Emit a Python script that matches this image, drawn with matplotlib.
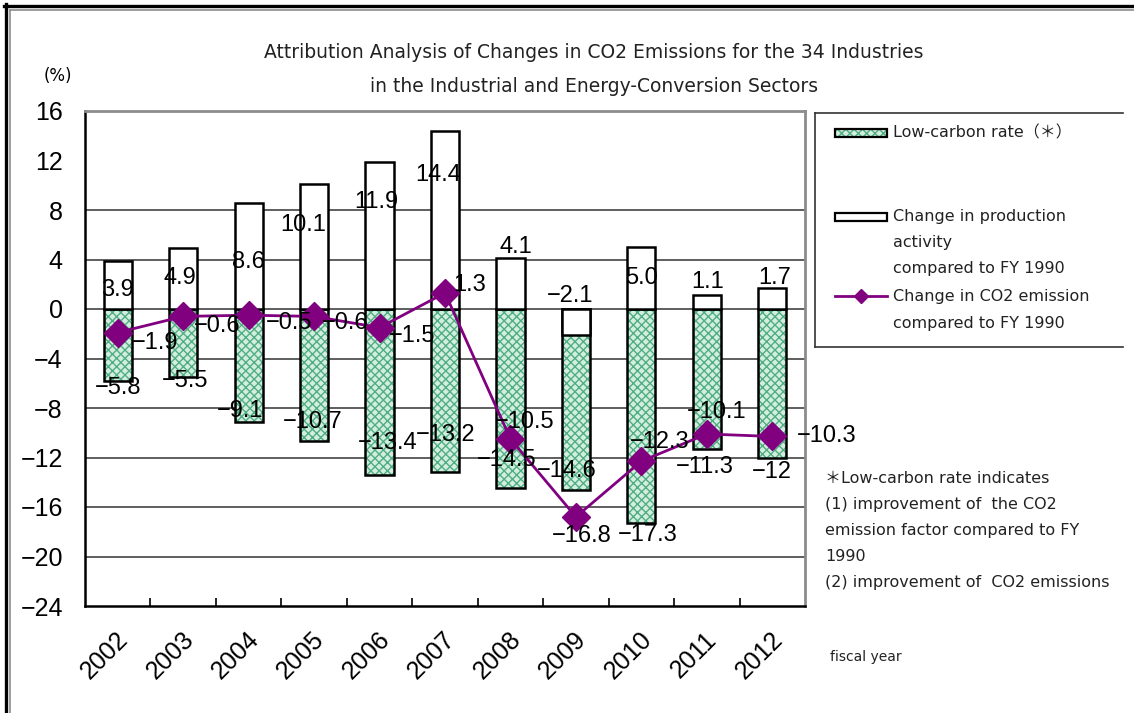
import numpy as np
import matplotlib
matplotlib.use("Agg")
import matplotlib.pyplot as plt
from matplotlib.lines import Line2D
from matplotlib.patches import Rectangle

# fiscal years and the three decomposition series (% vs FY1990)
years = ["2002", "2003", "2004", "2005", "2006", "2007",
         "2008", "2009", "2010", "2011", "2012"]
low_carbon = [-5.8, -5.5, -9.1, -10.7, -13.4, -13.2, -14.5, -14.6, -17.3, -11.3, -12.0]
production = [3.9, 4.9, 8.6, 10.1, 11.9, 14.4, 4.1, -2.1, 5.0, 1.1, 1.7]
co2_change = [-1.9, -0.6, -0.5, -0.6, -1.5, 1.3, -10.5, -16.8, -12.3, -10.1, -10.3]

# hand-placed label offsets (pixels) from each mark
low_off = [(0, -7), (2, -4), (-9, 11), (-1, 19), (8, 32), (1, 37),
           (-4, 28), (-9, 19), (6, -12), (-2, -18), (0, -15)]
prod_off = [(0, -29), (-3, -30), (0, -59), (-11, -41), (-3, -40), (-7, -44),
            (5, 11), (-6, 39), (0, -31), (1, 13), (2, 10)]
co2_off = [(37, -10), (34, -10), (40, -8), (31, -7), (33, -8), (25, 8),
           (14, 17), (6, -19), (18, 19), (10, 22), (54, 0)]

W, H = 1134, 713
TXT = ["DejaVu Sans", "Noto Sans CJK JP"]
NUM = ["Liberation Sans Narrow", "Liberation Sans"]
GREEN_FACE = "#d3eddf"
GREEN_HATCH = "#4fae82"


def fx(px):
    return px / W


def fy(py):
    return 1 - py / H


def fmt(v, spec):
    return format(v, spec).replace("-", "\u2212")


fig = plt.figure(figsize=(W / 100, H / 100), dpi=100)
fig.patch.set_facecolor("white")
ax = fig.add_axes([fx(85), fy(606), 720 / W, (606 - 111) / H])

x = np.arange(len(years))
bw = 0.43

plt.rcParams["hatch.linewidth"] = 1.0
ax.bar(x, low_carbon, bw, color=GREEN_FACE, edgecolor=GREEN_HATCH, hatch="xxxx",
       linewidth=0, zorder=2)
ax.bar(x, low_carbon, bw, fill=False, edgecolor="black", linewidth=1.8, zorder=3)
ax.bar(x, production, bw, color="white", edgecolor="black", linewidth=1.8, zorder=4)
ax.plot(x, co2_change, color="#800080", lw=2, marker="D", ms=14, zorder=5)

for v in [8, 4, 0, -4, -8, -12, -16, -20]:
    ax.axhline(v, color="#333333", lw=1.1, zorder=1)

for i in range(len(years)):
    ax.annotate(fmt(low_carbon[i], "g"), (x[i], low_carbon[i]), xytext=low_off[i],
                textcoords="offset pixels", ha="center", va="center",
                fontsize=17, family=NUM, zorder=6)
    ax.annotate(fmt(production[i], ".1f"), (x[i], production[i]), xytext=prod_off[i],
                textcoords="offset pixels", ha="center", va="center",
                fontsize=17, family=NUM, zorder=6)
    ax.annotate(fmt(co2_change[i], ".1f"), (x[i], co2_change[i]), xytext=co2_off[i],
                textcoords="offset pixels", ha="center", va="center",
                fontsize=17, family=NUM, zorder=6)

ax.set_xlim(-0.5, len(years) - 0.5)
ax.set_ylim(-24, 16)
ax.set_yticks(range(-24, 17, 4))
ax.tick_params(axis="y", length=0, pad=16, labelsize=18)
for t in ax.get_yticklabels():
    t.set_family("Liberation Sans")

ax.set_xticks([])
ax.set_xticks(np.arange(0.5, len(years) - 1, 1), minor=True)
ax.tick_params(axis="x", which="minor", direction="in", length=6, width=1.2)
for i, yr in enumerate(years):
    ax.text(i - 0.2, -0.1, yr, transform=ax.get_xaxis_transform(),
            rotation=45, ha="center", va="center", fontsize=18,
            family="Liberation Sans")

for side in ["left", "bottom"]:
    ax.spines[side].set_color("black")
    ax.spines[side].set_linewidth(1.8)
for side in ["top", "right"]:
    ax.spines[side].set_color("#8c8c8c")
    ax.spines[side].set_linewidth(2)

# outer double frame (top and left)
fig.add_artist(Line2D([fx(4.3), 1], [fy(5.5), fy(5.5)], color="black", lw=2.4))
fig.add_artist(Line2D([fx(9.5), 1], [fy(9.5), fy(9.5)], color="#8c8c8c", lw=1.2))
fig.add_artist(Line2D([fx(5.5), fx(5.5)], [fy(4.3), 0], color="black", lw=2.4))
fig.add_artist(Line2D([fx(9.5), fx(9.5)], [fy(9.5), 0], color="#8c8c8c", lw=1.2))

fig.text(fx(594), fy(52), "Attribution Analysis of Changes in CO2 Emissions for the 34 Industries",
         ha="center", va="center", fontsize=13.5, family=TXT, color="#222222")
fig.text(fx(594), fy(86), "in the Industrial and Energy-Conversion Sectors",
         ha="center", va="center", fontsize=13.5, family=TXT, color="#222222")
fig.text(fx(58), fy(76), "(%)", ha="center", va="center", fontsize=12, family=TXT)

# legend box
box = dict(color="#333333", lw=1.2)
fig.add_artist(Line2D([fx(815), fx(1123)], [fy(113), fy(113)], **box))
fig.add_artist(Line2D([fx(815), fx(1123)], [fy(347), fy(347)], **box))
fig.add_artist(Line2D([fx(815), fx(815)], [fy(113), fy(347)], **box))

fig.add_artist(Rectangle((fx(835), fy(137)), 52 / W, 8 / H, facecolor=GREEN_FACE,
                         edgecolor=GREEN_HATCH, hatch="xxxx", lw=0))
fig.add_artist(Rectangle((fx(835), fy(137)), 52 / W, 8 / H, fill=False,
                         edgecolor="black", lw=1.6))
fig.add_artist(Rectangle((fx(835), fy(221)), 52 / W, 8 / H, facecolor="white",
                         edgecolor="black", lw=1.6))
fig.add_artist(Line2D([fx(835), fx(887)], [fy(296), fy(296)], color="#800080", lw=2))
fig.add_artist(Line2D([fx(861)], [fy(296)], color="#800080", marker="D", ms=7))

leg_kw = dict(ha="left", va="center", fontsize=11.5, family=TXT, color="#222222")
fig.text(fx(893), fy(133), "Low-carbon rate（＊）", **leg_kw)
fig.text(fx(893), fy(216), "Change in production", **leg_kw)
fig.text(fx(893), fy(242), "activity", **leg_kw)
fig.text(fx(893), fy(268), "compared to FY 1990", **leg_kw)
fig.text(fx(893), fy(297), "Change in CO2 emission", **leg_kw)
fig.text(fx(893), fy(323), "compared to FY 1990", **leg_kw)

notes = ["＊Low-carbon rate indicates",
         "(1) improvement of  the CO2",
         "emission factor compared to FY",
         "1990",
         "(2) improvement of  CO2 emissions"]
for k, line in enumerate(notes):
    fig.text(fx(825), fy(478 + 26.2 * k), line, **leg_kw)

fig.text(fx(830), fy(657), "fiscal year", ha="left", va="center", fontsize=10,
         family=TXT, color="#222222")

fig.savefig("out.png", dpi=100)
